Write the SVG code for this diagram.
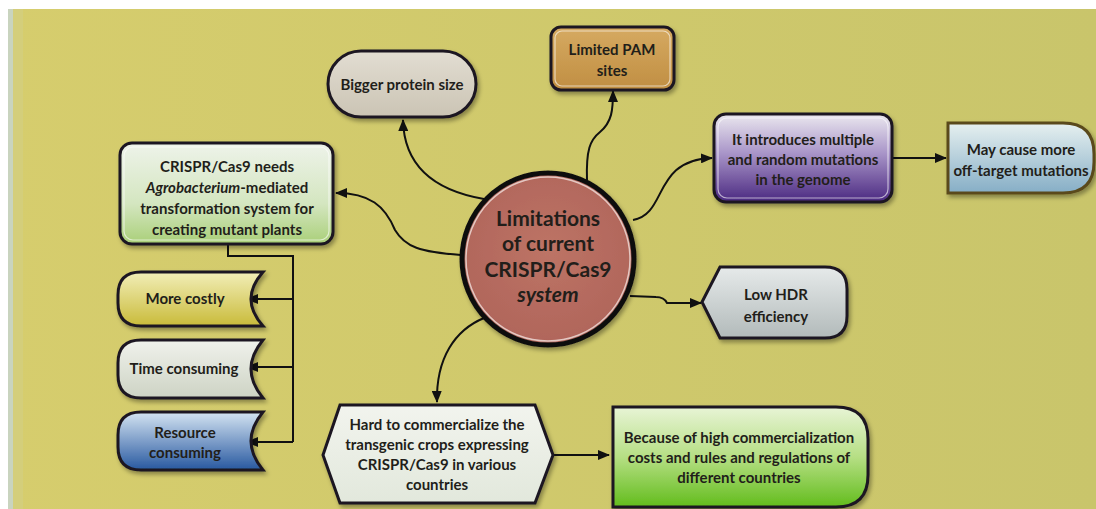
<svg xmlns="http://www.w3.org/2000/svg" width="1096" height="509" viewBox="0 0 1096 509">
<defs>
<style>
.t{font-family:Lato,"Open Sans","Liberation Sans",sans-serif;font-weight:bold;font-size:15px;fill:#221e1a;text-anchor:middle}
.big{font-size:21px}
.edge{fill:none;stroke:#111;stroke-width:2}
.box{stroke:#1c1820;stroke-width:3}
.in{fill:none;stroke:#ffffff;stroke-opacity:0.6;stroke-width:1.2}
</style>
<linearGradient id="bg" x1="0" y1="0" x2="1" y2="0">
<stop offset="0" stop-color="#d6cd6d"/><stop offset="1" stop-color="#c9c56b"/>
</linearGradient>
<linearGradient id="gAgro" x1="0" y1="0" x2="0" y2="1"><stop offset="0" stop-color="#eef3ea"/><stop offset="0.6" stop-color="#d4e6c0"/><stop offset="1" stop-color="#a9cf78"/></linearGradient>
<linearGradient id="gPur" x1="0" y1="0" x2="0" y2="1"><stop offset="0" stop-color="#ebe8ef"/><stop offset="0.45" stop-color="#a894c8"/><stop offset="1" stop-color="#4a2880"/></linearGradient>
<linearGradient id="gBlue" x1="0" y1="0" x2="0" y2="1"><stop offset="0" stop-color="#e6f0f0"/><stop offset="1" stop-color="#86aec6"/></linearGradient>
<linearGradient id="gPam" x1="0" y1="0" x2="0" y2="1"><stop offset="0" stop-color="#d6aa62"/><stop offset="1" stop-color="#c08e42"/></linearGradient>
<linearGradient id="gBig" x1="0" y1="0" x2="0" y2="1"><stop offset="0" stop-color="#e2ddd2"/><stop offset="1" stop-color="#cbc4b4"/></linearGradient>
<linearGradient id="gCost" x1="0" y1="0" x2="0" y2="1"><stop offset="0" stop-color="#f2eeb8"/><stop offset="1" stop-color="#c9bb3a"/></linearGradient>
<linearGradient id="gTime" x1="0" y1="0" x2="0" y2="1"><stop offset="0" stop-color="#f0f2ec"/><stop offset="1" stop-color="#cdd3c4"/></linearGradient>
<linearGradient id="gRes" x1="0" y1="0" x2="0" y2="1"><stop offset="0" stop-color="#d4e4f2"/><stop offset="1" stop-color="#2858a0"/></linearGradient>
<linearGradient id="gHdr" x1="0" y1="0" x2="0" y2="1"><stop offset="0" stop-color="#e6eaea"/><stop offset="1" stop-color="#b2baba"/></linearGradient>
<linearGradient id="gHard" x1="0" y1="0" x2="0" y2="1"><stop offset="0" stop-color="#f2f4ee"/><stop offset="1" stop-color="#e2e8dc"/></linearGradient>
<linearGradient id="gGreen" x1="0" y1="0" x2="0" y2="1"><stop offset="0" stop-color="#e8f4d6"/><stop offset="0.5" stop-color="#b6df84"/><stop offset="1" stop-color="#62bc1c"/></linearGradient>
<radialGradient id="gCirc" cx="0.5" cy="0.45" r="0.55"><stop offset="0" stop-color="#bd7466"/><stop offset="1" stop-color="#b0655a"/></radialGradient>
<filter id="sh" x="-10%" y="-10%" width="125%" height="130%"><feDropShadow dx="2" dy="3" stdDeviation="2" flood-color="#000" flood-opacity="0.35"/></filter>
<marker id="ah" viewBox="0 0 12 10" refX="11" refY="5" markerWidth="12" markerHeight="10" markerUnits="userSpaceOnUse" orient="auto"><path d="M0,0 L12,5 L0,10 Z" fill="#111"/></marker>
</defs>
<rect x="0" y="0" width="1096" height="509" fill="url(#bg)"/>
<rect x="0" y="0" width="1096" height="9" fill="#ffffff"/>
<rect x="0" y="0" width="8" height="509" fill="#ffffff"/>
<rect x="8" y="9" width="5" height="500" fill="#c9d4bf"/>
<rect x="13" y="9" width="10" height="500" fill="#d2cf86" opacity="0.6"/>

<g id="connectors">
<path class="edge" d="M484,199 C 432,190 404,165 403,120" marker-end="url(#ah)"/>
<path class="edge" d="M587,180 C 586,150 590,140 600,132 C 612,122 613,110 613,91" marker-end="url(#ah)"/>
<path class="edge" d="M633,220 C 668,214 652,160 712,158" marker-end="url(#ah)"/>
<path class="edge" d="M893,158 L946,158" marker-end="url(#ah)"/>
<path class="edge" d="M461,255 C 420,252 405,247 395,230 C 385,206 370,193 336,193" marker-end="url(#ah)"/>
<path class="edge" d="M630,296 L656,297 Q 664,297 667,303 L 701,303" marker-end="url(#ah)"/>
<path class="edge" d="M484,318 C 455,330 436,358 437,402" marker-end="url(#ah)"/>
<path class="edge" d="M554,455 L609,455" marker-end="url(#ah)"/>
<path class="edge" d="M228,244 V256 H293 V442"/>
<path class="edge" d="M293,299 H247" marker-end="url(#ah)"/>
<path class="edge" d="M293,367 H247" marker-end="url(#ah)"/>
<path class="edge" d="M293,442 H247" marker-end="url(#ah)"/>
</g>

<g id="center">
<circle cx="548" cy="259" r="86" fill="url(#gCirc)" stroke="#111" stroke-width="5" filter="url(#sh)"/>
<circle cx="548" cy="259" r="82" fill="none" stroke="#f0e0dc" stroke-width="1.5" opacity="0.8"/>
<text class="t big" x="548" y="226">Limitations</text>
<text class="t big" x="548" y="251">of current</text>
<text class="t big" x="548" y="277">CRISPR/Cas9</text>
<text class="t big" x="548" y="302" font-style="italic">system</text>
</g>

<g id="bigger">
<rect class="box" x="328" y="51" width="148" height="66" rx="33" fill="url(#gBig)" filter="url(#sh)"/>
<text class="t" x="402" y="90">Bigger protein size</text>
</g>

<g id="pam">
<rect class="box" x="551" y="27" width="123" height="63" rx="10" fill="url(#gPam)" filter="url(#sh)"/>
<rect class="in" x="555" y="31" width="115" height="55" rx="7"/>
<text class="t" x="612" y="55">Limited PAM</text>
<text class="t" x="612" y="76">sites</text>
</g>

<g id="multiple">
<rect class="box" x="714" y="114" width="178" height="88" rx="12" fill="url(#gPur)" filter="url(#sh)"/>
<rect class="in" x="718" y="118" width="170" height="80" rx="9"/>
<text class="t" x="803" y="145">It introduces multiple</text>
<text class="t" x="803" y="165">and random mutations</text>
<text class="t" x="803" y="185">in the genome</text>
</g>

<g id="offtarget">
<path d="M948,123 H1063 Q1094,123 1094,154 V162 Q1094,193 1063,193 H948 Z" fill="url(#gBlue)" stroke="#5a4a1c" stroke-width="3" filter="url(#sh)"/>
<text class="t" x="1021" y="155">May cause more</text>
<text class="t" x="1021" y="176">off-target mutations</text>
</g>

<g id="agro">
<rect class="box" x="120" y="143" width="213" height="101" rx="12" fill="url(#gAgro)" filter="url(#sh)"/>
<rect class="in" x="124" y="147" width="205" height="93" rx="9"/>
<text class="t" x="227" y="172">CRISPR/Cas9 needs</text>
<text class="t" x="227" y="193"><tspan font-style="italic">Agrobacterium</tspan>-mediated</text>
<text class="t" x="227" y="214">transformation system for</text>
<text class="t" x="227" y="235">creating mutant plants</text>
</g>

<g id="hdr">
<path d="M720,267 H825 Q847,267 847,289 V316 Q847,338 825,338 H720 L702,302 Z" fill="url(#gHdr)" stroke="#1c1820" stroke-width="3" filter="url(#sh)"/>
<text class="t" x="776" y="300" font-size="13">Low HDR</text>
<text class="t" x="776" y="322">efficiency</text>
</g>

<g id="costly">
<path class="box" d="M141,272 H263 Q239,299 263,326 H141 Q118,326 118,303 V295 Q118,272 141,272 Z" fill="url(#gCost)" filter="url(#sh)"/>
<text class="t" x="185" y="304">More costly</text>
</g>

<g id="time">
<path class="box" d="M141,340 H263 Q239,369 263,398 H141 Q118,398 118,375 V363 Q118,340 141,340 Z" fill="url(#gTime)" filter="url(#sh)"/>
<text class="t" x="184" y="374">Time consuming</text>
</g>

<g id="resource">
<path class="box" d="M141,412 H263 Q239,441 263,470 H141 Q118,470 118,447 V435 Q118,412 141,412 Z" fill="url(#gRes)" filter="url(#sh)"/>
<text class="t" x="185" y="438" fill="#1c2a50">Resource</text>
<text class="t" x="185" y="458" fill="#1c2a50">consuming</text>
</g>

<g id="hard">
<path class="box" d="M340,405 H535 L553,455 L535,503 H340 L323,455 Z" fill="url(#gHard)" filter="url(#sh)"/>
<text class="t" x="437" y="430">Hard to commercialize the</text>
<text class="t" x="437" y="450">transgenic crops expressing</text>
<text class="t" x="437" y="470">CRISPR/Cas9 in various</text>
<text class="t" x="437" y="490">countries</text>
</g>

<g id="because">
<path d="M613,407 H836 Q868,407 868,439 V475 Q868,507 836,507 H613 Z" fill="url(#gGreen)" stroke="#1c1820" stroke-width="3" filter="url(#sh)"/>
<text class="t" x="739" y="443">Because of high commercialization</text>
<text class="t" x="739" y="463">costs and rules and regulations of</text>
<text class="t" x="739" y="483">different countries</text>
</g>
</svg>
